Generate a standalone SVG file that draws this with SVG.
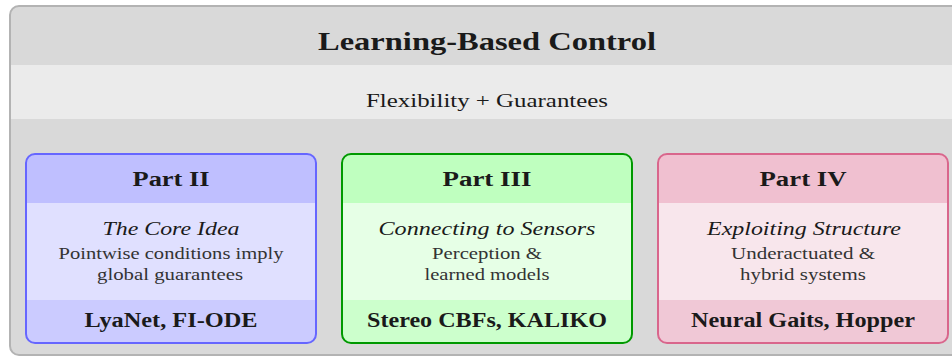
<svg xmlns="http://www.w3.org/2000/svg" width="952" height="357" viewBox="0 0 952 357">
  <style>
    text { font-family: "Liberation Serif", "DejaVu Serif", serif; fill: #1a1a1a; text-anchor: middle; }
    .title { font-size: 25px; font-weight: bold; }
    .sub { font-size: 18.5px; }
    .head { font-size: 20px; font-weight: bold; }
    .topic { font-size: 19.5px; font-style: italic; }
    .desc { font-size: 16.5px; fill: #333; }
    .foot { font-size: 20px; font-weight: bold; }
  </style>
  <defs>
    <clipPath id="outerClip"><rect x="10" y="6" width="956" height="349" rx="9"/></clipPath>
    <clipPath id="c2"><rect x="26" y="154" width="290" height="189" rx="9"/></clipPath>
    <clipPath id="c3"><rect x="342" y="154" width="290" height="189" rx="9"/></clipPath>
    <clipPath id="c4"><rect x="658" y="154" width="290" height="189" rx="9"/></clipPath>
  </defs>

  <!-- outer panel -->
  <g id="panel">
    <g clip-path="url(#outerClip)">
      <rect x="10" y="6" width="956" height="349" fill="#d9d9d9"/>
      <rect x="10" y="65" width="956" height="54" fill="#ebebeb"/>
    </g>
    <rect x="10" y="6" width="956" height="349" rx="9" fill="none" stroke="#b3b3b3" stroke-width="2"/>
    <text class="title" x="487" y="50" textLength="338" lengthAdjust="spacingAndGlyphs">Learning-Based Control</text>
    <text class="sub" x="487" y="107" textLength="242" lengthAdjust="spacingAndGlyphs">Flexibility + Guarantees</text>
  </g>

  <!-- Part II -->
  <g id="part2">
    <g clip-path="url(#c2)">
      <rect x="26" y="154" width="290" height="49" fill="#bfbfff"/>
      <rect x="26" y="203" width="290" height="97" fill="#e0e0ff"/>
      <rect x="26" y="300" width="290" height="43" fill="#cbcbff"/>
    </g>
    <rect x="26" y="154" width="290" height="189" rx="9" fill="none" stroke="#6666ff" stroke-width="2"/>
    <text class="head" x="171" y="186" textLength="77" lengthAdjust="spacingAndGlyphs">Part II</text>
    <text class="topic" x="171" y="235" textLength="137" lengthAdjust="spacingAndGlyphs">The Core Idea</text>
    <text class="desc" x="171" y="259" textLength="225" lengthAdjust="spacingAndGlyphs">Pointwise conditions imply</text>
    <text class="desc" x="170" y="280" textLength="146" lengthAdjust="spacingAndGlyphs">global guarantees</text>
    <text class="foot" x="171" y="327" textLength="173" lengthAdjust="spacingAndGlyphs">LyaNet, FI-ODE</text>
  </g>

  <!-- Part III -->
  <g id="part3">
    <g clip-path="url(#c3)">
      <rect x="342" y="154" width="290" height="49" fill="#bfffbf"/>
      <rect x="342" y="203" width="290" height="97" fill="#e6ffe6"/>
      <rect x="342" y="300" width="290" height="43" fill="#ccffcc"/>
    </g>
    <rect x="342" y="154" width="290" height="189" rx="9" fill="none" stroke="#009900" stroke-width="2"/>
    <text class="head" x="487" y="186" textLength="89" lengthAdjust="spacingAndGlyphs">Part III</text>
    <text class="topic" x="487" y="235" textLength="217" lengthAdjust="spacingAndGlyphs">Connecting to Sensors</text>
    <text class="desc" x="487" y="259" textLength="110" lengthAdjust="spacingAndGlyphs">Perception &amp;</text>
    <text class="desc" x="487" y="280" textLength="125" lengthAdjust="spacingAndGlyphs">learned models</text>
    <text class="foot" x="487" y="327" textLength="240" lengthAdjust="spacingAndGlyphs">Stereo CBFs, KALIKO</text>
  </g>

  <!-- Part IV -->
  <g id="part4">
    <g clip-path="url(#c4)">
      <rect x="658" y="154" width="290" height="49" fill="#f0c0d0"/>
      <rect x="658" y="203" width="290" height="97" fill="#f8e6ec"/>
      <rect x="658" y="300" width="290" height="43" fill="#f0c8d6"/>
    </g>
    <rect x="658" y="154" width="290" height="189" rx="9" fill="none" stroke="#d9668c" stroke-width="2"/>
    <text class="head" x="803" y="186" textLength="87" lengthAdjust="spacingAndGlyphs">Part IV</text>
    <text class="topic" x="804" y="235" textLength="194" lengthAdjust="spacingAndGlyphs">Exploiting Structure</text>
    <text class="desc" x="803" y="259" textLength="144" lengthAdjust="spacingAndGlyphs">Underactuated &amp;</text>
    <text class="desc" x="803" y="280" textLength="126" lengthAdjust="spacingAndGlyphs">hybrid systems</text>
    <text class="foot" x="803" y="327" textLength="224" lengthAdjust="spacingAndGlyphs">Neural Gaits, Hopper</text>
  </g>

  <g id="connectors"/>
</svg>
